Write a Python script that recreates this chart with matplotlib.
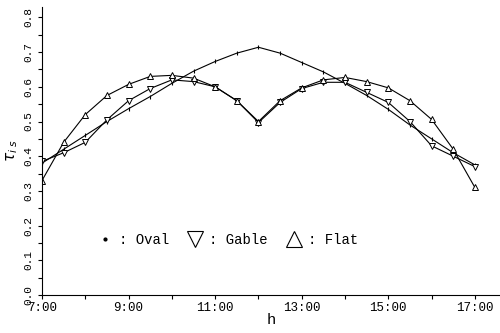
import matplotlib
matplotlib.use("Agg")
import matplotlib.pyplot as plt
from matplotlib.lines import Line2D
import numpy as np

# half-hourly values, 7:00 .. 17:00
hours = [7 + 0.5 * i for i in range(21)]
oval = [0.38, 0.42, 0.46, 0.50, 0.537, 0.572, 0.61, 0.645, 0.673, 0.697, 0.714,
        0.697, 0.67, 0.643, 0.61, 0.575, 0.535, 0.49, 0.45, 0.41, 0.375]
gable = [0.385, 0.41, 0.44, 0.505, 0.56, 0.595, 0.62, 0.615, 0.60, 0.56, 0.497,
         0.555, 0.595, 0.613, 0.613, 0.584, 0.555, 0.50, 0.43, 0.40, 0.37]
flat = [0.33, 0.44, 0.52, 0.575, 0.607, 0.63, 0.633, 0.625, 0.60, 0.56, 0.50,
        0.56, 0.597, 0.62, 0.627, 0.615, 0.597, 0.56, 0.506, 0.42, 0.31]

xtick_pos = [7, 9, 11, 13, 15, 17]
xtick_lab = ["7:00", "9:00", "11:00", "13:00", "15:00", "17:00"]

plt.rcParams['font.family'] = ['Liberation Mono', 'DejaVu Sans']

fig = plt.figure(figsize=(5, 3.33), dpi=100)
ax = fig.add_axes([0.084, 0.114, 0.916, 0.865])

ax.plot(hours, oval, color="black", lw=0.8, marker="|", ms=3, mew=0.8)
ax.plot(hours, gable, color="black", lw=0.8, marker="v", ms=5, mfc="white", mec="black", mew=0.7)
ax.plot(hours, flat, color="black", lw=0.8, marker="^", ms=5, mfc="white", mec="black", mew=0.7)

ax.set_xlim(7, 17.58)
ax.set_ylim(0, 0.83)
ax.spines["top"].set_visible(False)
ax.spines["right"].set_visible(False)

ax.set_xticks(xtick_pos)
ax.set_xticklabels(xtick_lab, fontsize=9)
ax.set_xticks([8, 10, 12, 14, 16], minor=True)
ax.set_yticks(np.arange(0, 0.81, 0.1))
ax.set_yticklabels(["%.1f" % v for v in np.arange(0, 0.81, 0.1)], rotation=90,
                   va="center", fontsize=8)
ax.set_yticks(np.arange(0.05, 0.81, 0.1), minor=True)
ax.tick_params(which="both", direction="out", length=3, width=0.8)
ax.tick_params(axis="x", pad=2)

ax.set_xlabel("h", fontsize=11, labelpad=-1)
ax.set_ylabel(r"$\tau_{i\ s}$", fontsize=11, rotation=90, va="center", ha="center")
ax.yaxis.set_label_coords(-0.066, 0.5)

handles = [
    Line2D([], [], ls="none", marker=".", ms=4, color="black"),
    Line2D([], [], ls="none", marker="v", ms=11, mfc="white", mec="black", mew=0.8),
    Line2D([], [], ls="none", marker="^", ms=11, mfc="white", mec="black", mew=0.8),
]
ax.legend(handles, [": Oval", ": Gable", ": Flat"], ncol=3, frameon=False,
          loc="center", bbox_to_anchor=(0.405, 0.19), handlelength=1.2,
          handletextpad=0.4, columnspacing=1.3, fontsize=10)

fig.savefig("out.png", dpi=100)
